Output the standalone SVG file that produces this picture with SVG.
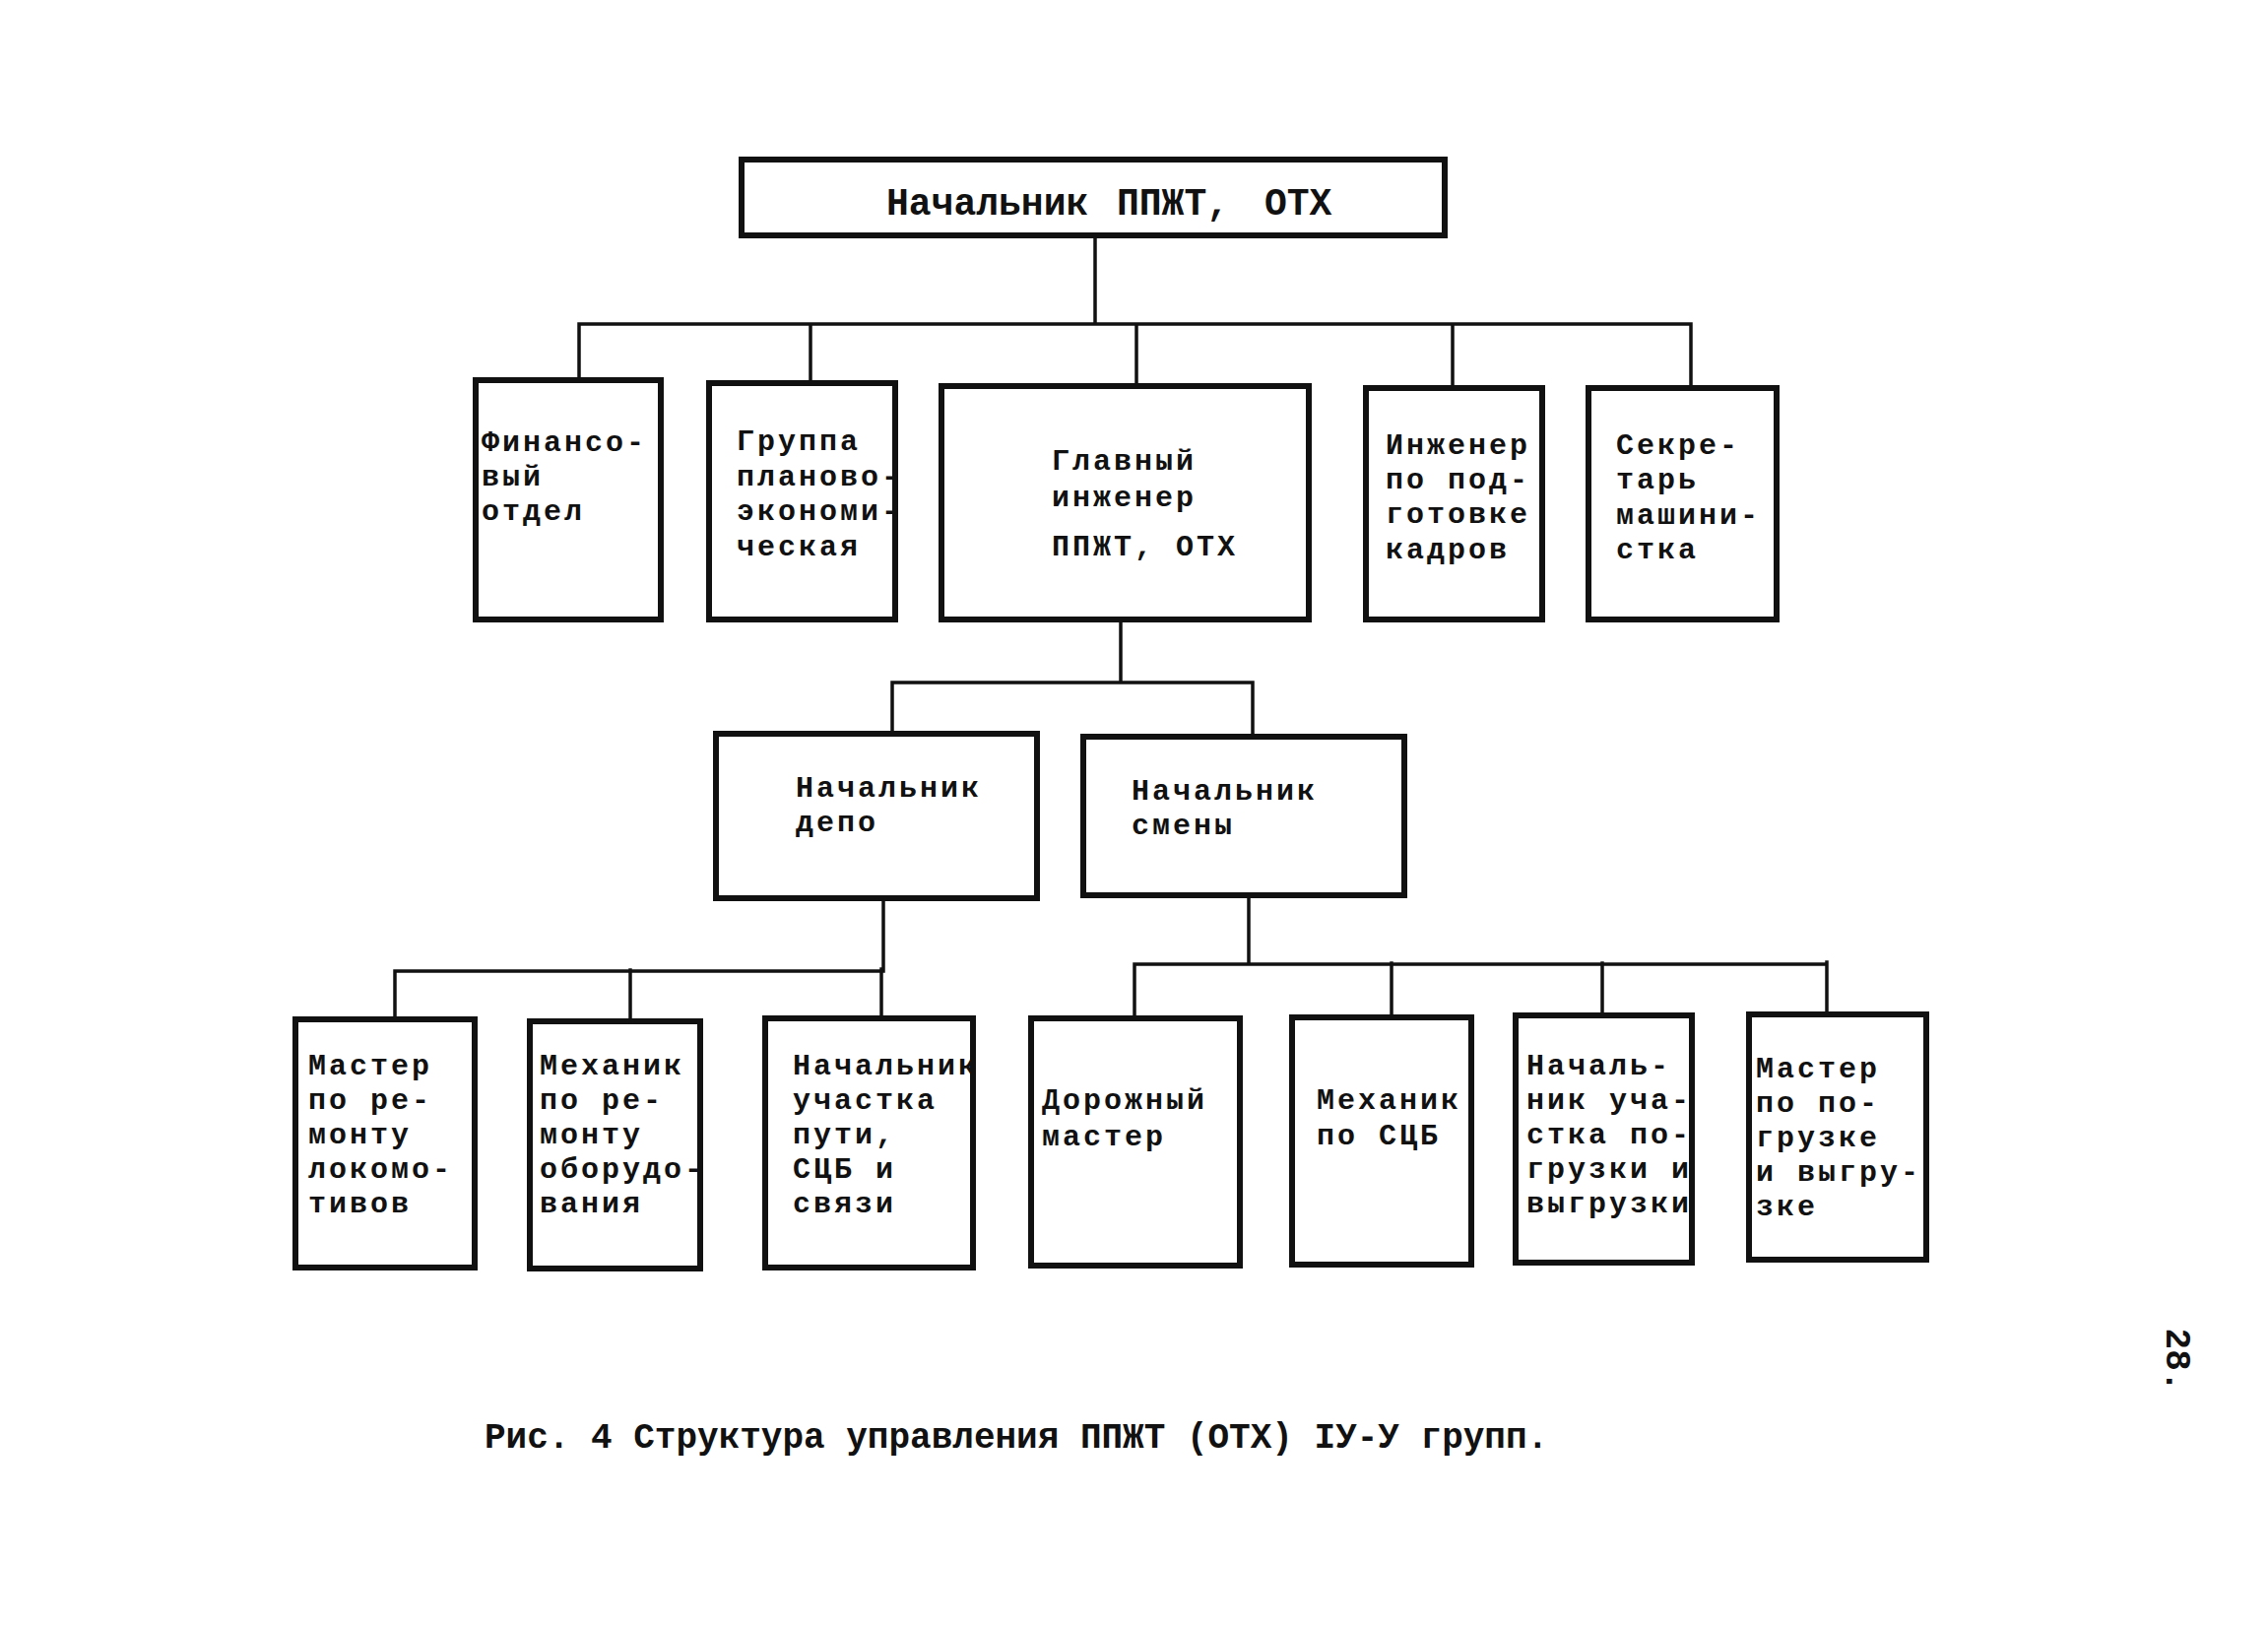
<svg xmlns="http://www.w3.org/2000/svg" width="2303" height="1653" viewBox="0 0 2303 1653">
<style>
.box{fill:#fff;stroke:#111;stroke-width:6}
.con{fill:none;stroke:#111;stroke-width:3.5;stroke-linecap:square}
text{font-family:"Liberation Mono","DejaVu Sans Mono",monospace;font-weight:bold;font-size:30px;letter-spacing:3px;fill:#111}
.t{font-size:38px;letter-spacing:0}
.c{font-size:36px;letter-spacing:0}
</style>
<rect width="2303" height="1653" fill="#fff"/>
<g id="connectors">
<path class="con" d="M1112 239V329M588 329H1717M588 329V386M823 329V389M1154 329V392M1475 329V394M1717 329V394"/>
<path class="con" d="M1138 629V693M906 693H1272M906 693V745M1272 693V748"/>
<path class="con" d="M897 912V984M401 986H897M401 986V1035M640 985V1037M895 984V1034"/>
<path class="con" d="M1268 909V977M1152 979H1855M1152 979V1034M1413 978V1033M1627 978V1031M1855 977V1030"/>
</g>
<g id="n-top"><rect class="box" x="753" y="162" width="714" height="77"/>
<text class="t" y="218"><tspan x="900">Начальник</tspan><tspan x="1134">ППЖТ,</tspan><tspan x="1284">ОТХ</tspan></text></g>
<g id="n-fin"><rect class="box" x="483" y="386" width="188" height="243"/>
<text x="489" y="458">Финансо-</text><text x="489" y="493">вый</text><text x="489" y="528">отдел</text></g>
<g id="n-grp"><rect class="box" x="720" y="389" width="189" height="240"/>
<text x="748" y="457">Группа</text><text x="748" y="493">планово-</text><text x="748" y="528">экономи-</text><text x="748" y="564">ческая</text></g>
<g id="n-gl"><rect class="box" x="956" y="392" width="373" height="237"/>
<text x="1068" y="477">Главный</text><text x="1068" y="514">инженер</text><text x="1068" y="564">ППЖТ, ОТХ</text></g>
<g id="n-inzh"><rect class="box" x="1387" y="394" width="179" height="235"/>
<text x="1407" y="461">Инженер</text><text x="1407" y="496">по под-</text><text x="1407" y="531">готовке</text><text x="1407" y="567">кадров</text></g>
<g id="n-sekr"><rect class="box" x="1613" y="394" width="191" height="235"/>
<text x="1641" y="461">Секре-</text><text x="1641" y="496">тарь</text><text x="1641" y="532">машини-</text><text x="1641" y="567">стка</text></g>
<g id="n-depo"><rect class="box" x="727" y="745" width="326" height="167"/>
<text x="808" y="809">Начальник</text><text x="808" y="844">депо</text></g>
<g id="n-smen"><rect class="box" x="1100" y="748" width="326" height="161"/>
<text x="1149" y="812">Начальник</text><text x="1149" y="847">смены</text></g>
<g id="n-m1"><rect class="box" x="300" y="1035" width="182" height="252"/>
<text x="313" y="1091">Мастер</text><text x="313" y="1126">по ре-</text><text x="313" y="1161">монту</text><text x="313" y="1196">локомо-</text><text x="313" y="1231">тивов</text></g>
<g id="n-m2"><rect class="box" x="538" y="1037" width="173" height="251"/>
<text x="548" y="1091">Механик</text><text x="548" y="1126">по ре-</text><text x="548" y="1161">монту</text><text x="548" y="1196">оборудо-</text><text x="548" y="1231">вания</text></g>
<g id="n-m3"><rect class="box" x="777" y="1034" width="211" height="253"/>
<text x="805" y="1091">Начальник</text><text x="805" y="1126">участка</text><text x="805" y="1161">пути,</text><text x="805" y="1196">СЦБ и</text><text x="805" y="1231">связи</text></g>
<g id="n-m4"><rect class="box" x="1047" y="1034" width="212" height="251"/>
<text x="1058" y="1126">Дорожный</text><text x="1058" y="1163">мастер</text></g>
<g id="n-m5"><rect class="box" x="1312" y="1033" width="182" height="251"/>
<text x="1337" y="1126">Механик</text><text x="1337" y="1162">по СЦБ</text></g>
<g id="n-m6"><rect class="box" x="1539" y="1031" width="179" height="251"/>
<text x="1550" y="1091">Началь-</text><text x="1550" y="1126">ник уча-</text><text x="1550" y="1161">стка по-</text><text x="1550" y="1196">грузки и</text><text x="1550" y="1231">выгрузки</text></g>
<g id="n-m7"><rect class="box" x="1776" y="1030" width="180" height="249"/>
<text x="1783" y="1094">Мастер</text><text x="1783" y="1129">по по-</text><text x="1783" y="1164">грузке</text><text x="1783" y="1199">и выгру-</text><text x="1783" y="1234">зке</text></g>
<text class="c" x="492" y="1470">Рис. 4 Структура управления ППЖТ (ОТХ) IУ-У групп.</text>
<text class="c" transform="translate(2200 1381) rotate(90)" text-anchor="middle">28.</text>
</svg>
